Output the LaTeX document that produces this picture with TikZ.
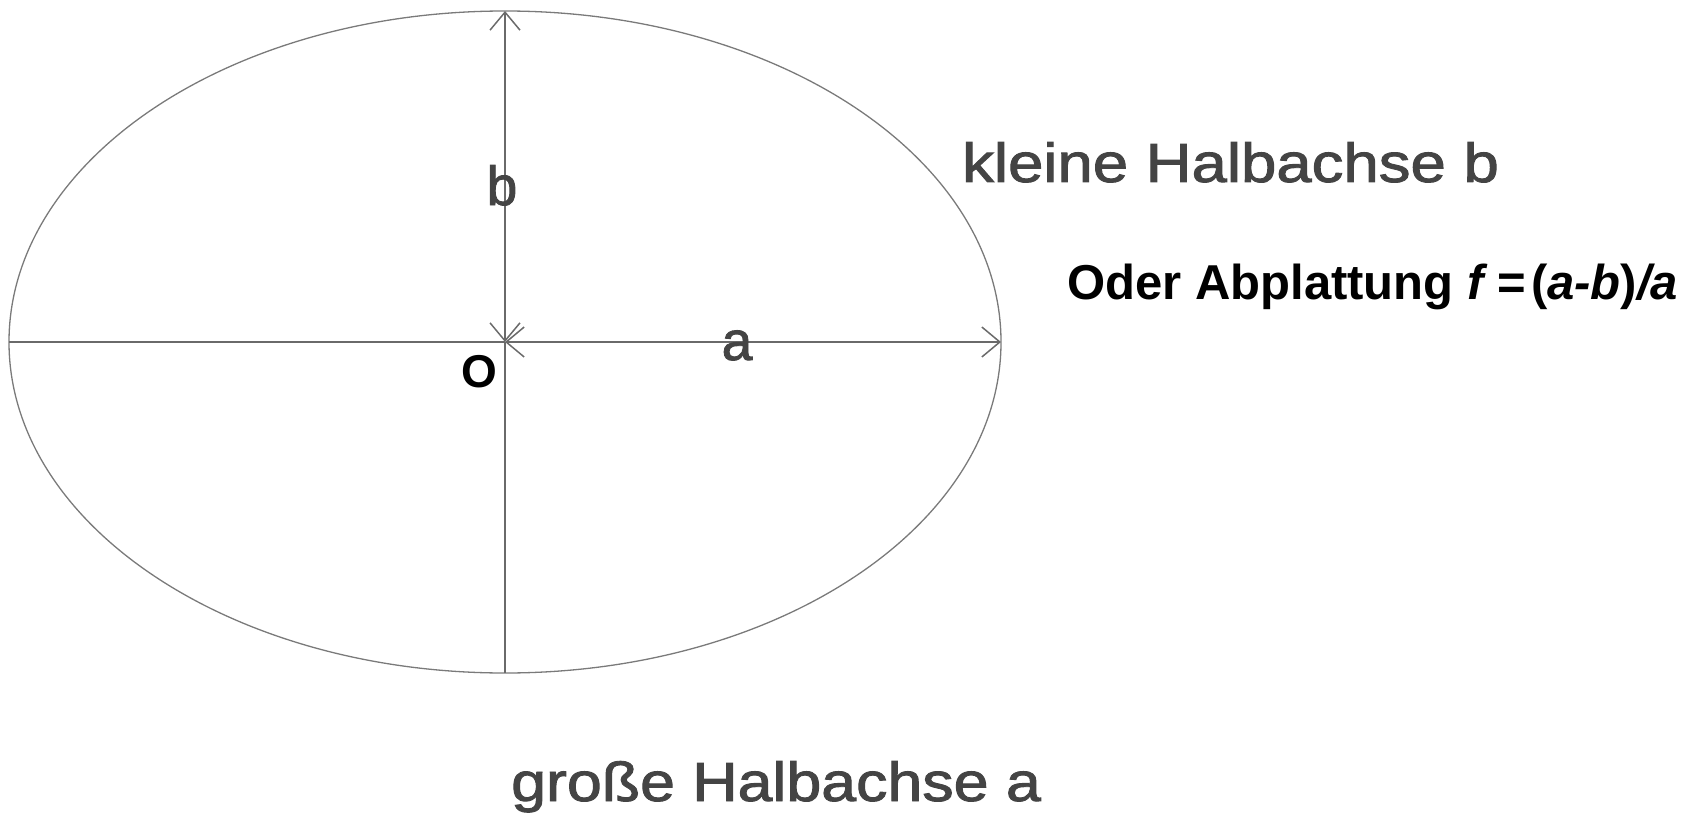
\documentclass[tikz,border=0pt]{standalone}
\usepackage{fontspec}
\setmainfont{Liberation Sans}
\newfontfamily\grayfont[FakeBold=1.6]{Liberation Sans}
\usepackage{graphicx}
\usetikzlibrary{arrows.meta}
\definecolor{axisgray}{HTML}{6A6A6A}
\definecolor{ellgray}{HTML}{7A7A7A}
\definecolor{txtgray}{HTML}{444444}
\tikzset{
  axis/.style={draw=axisgray, line width=1.5pt},
  dimarrow/.style={axis, {Straight Barb[length=18pt,width=30pt]}-{Straight Barb[length=18pt,width=30pt]}},
  graylabel/.style={text=txtgray, inner sep=0pt, font=\grayfont\fontsize{55}{66}\selectfont},
  blacklabel/.style={text=black, inner sep=0pt, font=\bfseries\fontsize{49}{58}\selectfont},
}
\begin{document}
\begin{tikzpicture}[x=1pt,y=-1pt]
\useasboundingbox (0,0) rectangle (1694,813);
\coordinate (O) at (505,342);
\coordinate (top) at (505,11);
\coordinate (bottom) at (505,673);
\coordinate (left) at (9,342);
\coordinate (right) at (1001,342);
% ellipse
\draw[draw=ellgray, line width=1.3pt] (O) ellipse [x radius=496pt, y radius=331pt];
% axes
\draw[axis] (left) -- (O);
\draw[axis] (O) -- (bottom);
\draw[dimarrow] (O) -- (top);
\draw[dimarrow] (O) -- (right);
% labels
\node[graylabel, anchor=base] (lb) at (502,205) {b};
\node[graylabel, anchor=base] (la) at (737,360) {a};
\node[blacklabel, font=\bfseries\fontsize{46}{54}\selectfont, anchor=base] (lO) at (479,387) {O};
\node[graylabel, anchor=base west] (klein) at (962,182) {\scalebox{1.155}[1]{kleine Halbachse b}};
\node[graylabel, anchor=base west] (gross) at (511,801) {\scalebox{1.14}[1]{große Halbachse a}};
\node[blacklabel, anchor=base west] (abpl) at (1067,299) {Oder Abplattung \textit{f}\hspace{0.2em}=\hspace{0.1em}(\textit{a-b})\textit{/a}};
\end{tikzpicture}
\end{document}
